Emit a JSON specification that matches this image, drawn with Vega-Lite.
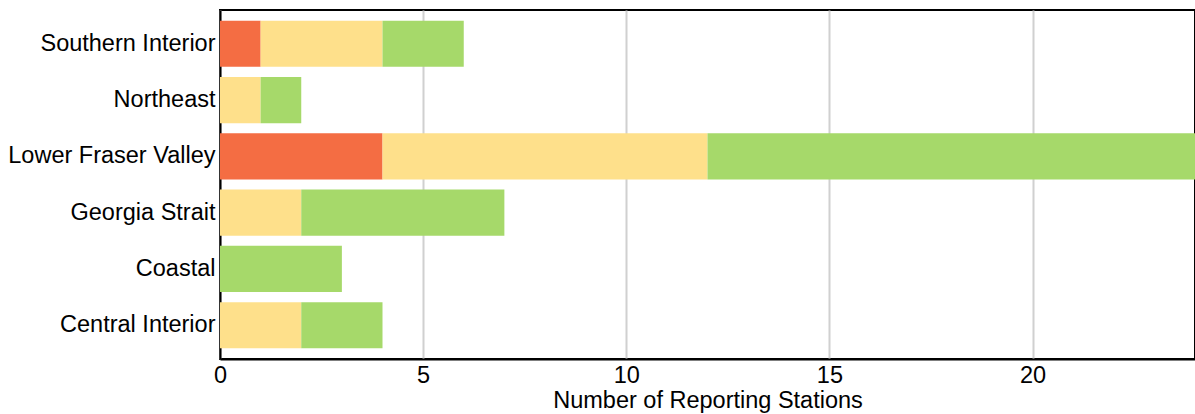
{
  "$schema": "https://vega.github.io/schema/vega-lite/v6.json",
  "width": 975,
  "height": 349,
  "autosize": {"type": "none"},
  "padding": {"left": 220, "top": 10, "right": 0, "bottom": 55},
  "config": {"view": {"stroke": "black", "strokeWidth": 2}, "font": "Liberation Sans"},
  "data": {
    "values": [
      {"region": "Southern Interior", "level": "High", "rank": 1, "count": 1},
      {"region": "Southern Interior", "level": "Moderate", "rank": 2, "count": 3},
      {"region": "Southern Interior", "level": "Low", "rank": 3, "count": 2},
      {"region": "Northeast", "level": "High", "rank": 1, "count": 0},
      {"region": "Northeast", "level": "Moderate", "rank": 2, "count": 1},
      {"region": "Northeast", "level": "Low", "rank": 3, "count": 1},
      {"region": "Lower Fraser Valley", "level": "High", "rank": 1, "count": 4},
      {"region": "Lower Fraser Valley", "level": "Moderate", "rank": 2, "count": 8},
      {"region": "Lower Fraser Valley", "level": "Low", "rank": 3, "count": 12},
      {"region": "Georgia Strait", "level": "High", "rank": 1, "count": 0},
      {"region": "Georgia Strait", "level": "Moderate", "rank": 2, "count": 2},
      {"region": "Georgia Strait", "level": "Low", "rank": 3, "count": 5},
      {"region": "Coastal", "level": "High", "rank": 1, "count": 0},
      {"region": "Coastal", "level": "Moderate", "rank": 2, "count": 0},
      {"region": "Coastal", "level": "Low", "rank": 3, "count": 3},
      {"region": "Central Interior", "level": "High", "rank": 1, "count": 0},
      {"region": "Central Interior", "level": "Moderate", "rank": 2, "count": 2},
      {"region": "Central Interior", "level": "Low", "rank": 3, "count": 2}
    ]
  },
  "mark": {"type": "bar", "strokeWidth": 0},
  "encoding": {
    "y": {
      "field": "region",
      "type": "nominal",
      "sort": "descending",
      "scale": {"paddingInner": 0.18, "paddingOuter": 0.19},
      "axis": {
        "title": null,
        "grid": false,
        "ticks": false,
        "labelFontSize": 23.5,
        "labelColor": "black",
        "labelPadding": 5,
        "labelLimit": 300,
        "domainColor": "black",
        "domainWidth": 2
      }
    },
    "x": {
      "field": "count",
      "type": "quantitative",
      "stack": "zero",
      "scale": {"domain": [0, 24], "nice": false},
      "axis": {
        "title": "Number of Reporting Stations",
        "values": [0, 5, 10, 15, 20],
        "grid": true,
        "gridColor": "#d0d0d0",
        "gridWidth": 2,
        "ticks": false,
        "labelFlush": false,
        "labelFontSize": 23.5,
        "labelColor": "black",
        "labelPadding": 4,
        "titleFontSize": 23.5,
        "titleFontWeight": "normal",
        "titleColor": "black",
        "titlePadding": 2,
        "domainColor": "black",
        "domainWidth": 2
      }
    },
    "color": {
      "field": "level",
      "type": "nominal",
      "scale": {"domain": ["High", "Moderate", "Low"], "range": ["#f46d43", "#fee08b", "#a6d96a"]},
      "legend": null
    },
    "order": {"field": "rank", "type": "quantitative"}
  }
}
